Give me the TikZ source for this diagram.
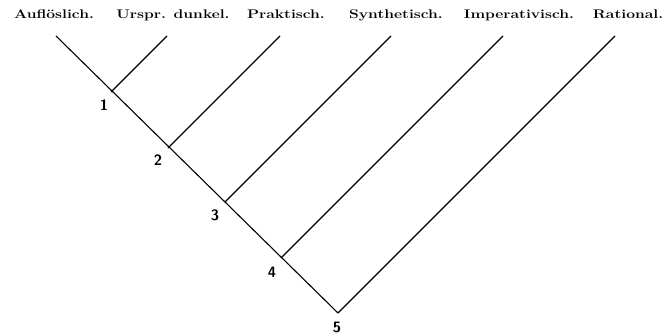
\documentclass[tikz,border=0pt]{standalone}
\usepackage{tikz}
\usetikzlibrary{positioning}
\newcommand{\breit}[1]{\scalebox{1.25}[1]{#1}}
\begin{document}
\begin{tikzpicture}[x=1pt,y=-1pt,line width=1.1pt,
  kopf/.style={font=\fontsize{12.5}{14}\selectfont\bfseries,anchor=base,inner sep=0pt},
  zahl/.style={font=\fontsize{15}{18}\selectfont\sffamily\bfseries,inner sep=1pt}]
  \useasboundingbox (0,0) rectangle (668,336);
  % Kopfzeile
  \foreach \n/\x/\txt in {0/54/{Aufl\"oslich.},1/173/{Urspr. dunkel.},2/286/{Praktisch.},
                          3/396/{Synthetisch.},4/519/{Imperativisch.},5/628/{Rational.}}
    \node[kopf] (t\n) at (\x,19) {\breit{\txt}};
  % Stamm und Zweige
  \coordinate (o0) at (56,36);
  \foreach \i/\x/\y in {1/111/92,2/168/148,3/225/202,4/281/258,5/338/313}{
    \coordinate (j\i) at (\x,\y);
    \coordinate (o\i) at (\x+\y-36,36);}
  \draw (o0) -- (j5);
  \foreach \i in {1,...,5}
    \draw (j\i) -- (o\i);
  \foreach \i/\dx/\dy in {1/-7/13,2/-10/12,3/-10/13,4/-9/14,5/-1/14}
    \node[zahl] (z\i) at ([shift={(\dx,\dy)}]j\i) {\i};
\end{tikzpicture}
\end{document}
